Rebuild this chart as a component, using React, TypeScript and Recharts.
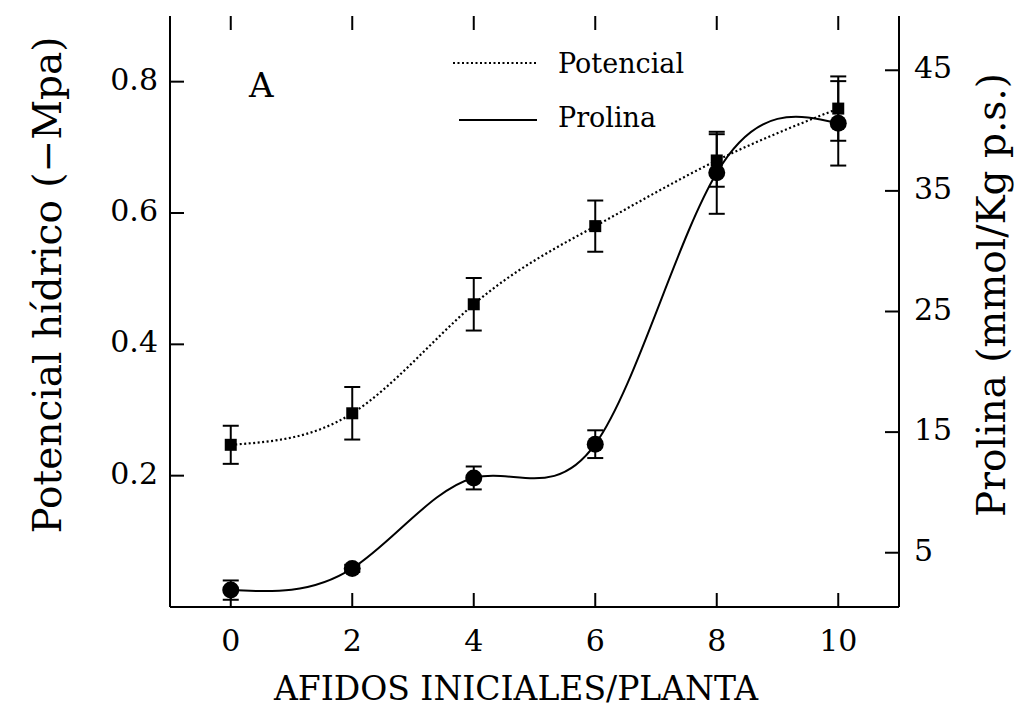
import React from "react";
import { LineChart, Line, XAxis, YAxis, ErrorBar, Label, ReferenceLine } from "recharts";

const xValues = [0, 2, 4, 6, 8, 10];
const potencial = [0.247, 0.295, 0.461, 0.58, 0.68, 0.759];
const potencialErr = [0.029, 0.04, 0.04, 0.039, 0.04, 0.049];
const prolina = [1.9, 3.7, 11.2, 14.0, 36.5, 40.6];
const prolinaErr = [0.8, 0.3, 0.95, 1.15, 3.4, 3.5];
const xTicks = [0, 2, 4, 6, 8, 10];
const leftTicks = [0.2, 0.4, 0.6, 0.8];
const rightTicks = [5, 15, 25, 35, 45];
const seriesNames = ["Potencial", "Prolina"];

const xDomain = [-1, 11];
const leftDomain = [0, 0.9];
const rightDomain = [0.5, 49.5];

const data = xValues.map((x, i) => ({
  x,
  potencial: potencial[i],
  potErr: potencialErr[i],
  prolina: prolina[i],
  proErr: prolinaErr[i],
}));

const FONT = "'DejaVu Serif', serif";
const axisLine = { stroke: "#000", strokeWidth: 2 };

// plot box (px) — fixed by the chart margins and axis sizes below
const PLOT_L = 170;
const PLOT_T = 16;
const PLOT_W = 729;
const PLOT_H = 591;
const TICK_PX = 14;
const tickX = ((xDomain[1] - xDomain[0]) * TICK_PX) / PLOT_W;
const tickYL = ((leftDomain[1] - leftDomain[0]) * TICK_PX) / PLOT_H;
const sx = (v: number) => PLOT_L + ((v - xDomain[0]) / (xDomain[1] - xDomain[0])) * PLOT_W;
const syL = (v: number) => PLOT_T + PLOT_H - ((v - leftDomain[0]) / (leftDomain[1] - leftDomain[0])) * PLOT_H;
const syR = (v: number) => PLOT_T + PLOT_H - ((v - rightDomain[0]) / (rightDomain[1] - rightDomain[0])) * PLOT_H;

const BottomTick = (props: any) => {
  const { x, y, payload } = props;
  return (
    <text x={x} y={y + 44} textAnchor="middle" fontFamily={FONT} fontSize={30} fill="#000">
      {payload.value}
    </text>
  );
};
const LeftTick = (props: any) => {
  const { x, y, payload } = props;
  return (
    <text x={x - 12} y={y + 8} textAnchor="end" fontFamily={FONT} fontSize={30} fill="#000">
      {String(payload.value)}
    </text>
  );
};
const RightTick = (props: any) => {
  const { x, y, payload } = props;
  return (
    <text x={x + 15} y={y + 8} textAnchor="start" fontFamily={FONT} fontSize={30} fill="#000">
      {String(payload.value)}
    </text>
  );
};

const SquareDot = (props: any) => {
  const { cx, cy, index } = props;
  if (cx == null || cy == null) return <g key={`s${index}`} />;
  return <rect key={`s${index}`} x={cx - 6} y={cy - 6} width={12} height={12} fill="#000" />;
};
const CircleDot = (props: any) => {
  const { cx, cy, index } = props;
  if (cx == null || cy == null) return <g key={`c${index}`} />;
  return <circle key={`c${index}`} cx={cx} cy={cy} r={8.5} fill="#000" />;
};

export default function App() {
  return (
    <div style={{ position: "relative", width: 1016, height: 707, background: "#fff", overflow: "hidden" }}>
      <style>{"html,body{margin:0;padding:0;overflow:hidden;background:#fff}"}</style>
      <LineChart
        width={1016}
        height={707}
        data={data}
        margin={{ top: 16, right: 0, bottom: 0, left: 0 }}
        style={{ overflow: "visible" }}
      >
        <XAxis
          dataKey="x"
          type="number"
          domain={xDomain}
          ticks={xTicks}
          allowDataOverflow
          height={100}
          axisLine={axisLine}
          tickLine={false}
          tickSize={0}
          tickMargin={0}
          tick={BottomTick}
          interval={0}
        >
          <Label
            content={() => (
              <text x={516} y={700} textAnchor="middle" fontFamily={FONT} fontSize={33} fill="#000">
                AFIDOS INICIALES/PLANTA
              </text>
            )}
          />
        </XAxis>
        <XAxis
          xAxisId="top"
          dataKey="x"
          type="number"
          orientation="top"
          domain={xDomain}
          ticks={xTicks}
          allowDataOverflow
          height={0}
          axisLine={axisLine}
          tickLine={false}
          tick={false}
        />
        <YAxis
          yAxisId="left"
          type="number"
          domain={leftDomain}
          ticks={leftTicks}
          allowDataOverflow
          width={170}
          axisLine={axisLine}
          tickLine={false}
          tickSize={0}
          tickMargin={0}
          tick={LeftTick}
          interval={0}
        >
          <Label
            content={() => (
              <text
                x={61}
                y={285}
                transform="rotate(-90 61 285)"
                textAnchor="middle"
                fontFamily={FONT}
                fontSize={39}
                fill="#000"
              >
                Potencial hídrico (−Mpa)
              </text>
            )}
          />
        </YAxis>
        <YAxis
          yAxisId="right"
          orientation="right"
          type="number"
          domain={rightDomain}
          ticks={rightTicks}
          allowDataOverflow
          width={117}
          axisLine={axisLine}
          tickLine={false}
          tickSize={0}
          tickMargin={0}
          tick={RightTick}
          interval={0}
        >
          <Label
            content={() => (
              <text
                x={1005}
                y={295}
                transform="rotate(-90 1005 295)"
                textAnchor="middle"
                fontFamily={FONT}
                fontSize={39}
                fill="#000"
              >
                Prolina (mmol/Kg p.s.)
              </text>
            )}
          />
        </YAxis>

        {xTicks.map((t) => (
          <ReferenceLine
            key={`tt${t}`}
            yAxisId="left"
            ifOverflow="visible"
            segment={[
              { x: t, y: leftDomain[1] },
              { x: t, y: leftDomain[1] - tickYL },
            ]}
            stroke="#000"
            strokeWidth={2}
          />
        ))}

        <Line
          yAxisId="right"
          dataKey="prolina"
          name={seriesNames[1]}
          type="natural"
          stroke="#000"
          strokeWidth={2}
          dot={CircleDot}
          activeDot={false}
          isAnimationActive={false}
        >
          <ErrorBar dataKey="proErr" direction="y" width={8} stroke="#000" strokeWidth={2} isAnimationActive={false} />
        </Line>
        <Line
          yAxisId="left"
          dataKey="potencial"
          name={seriesNames[0]}
          type="natural"
          stroke="#000"
          strokeWidth={2.2}
          strokeDasharray="2 2.5"
          dot={SquareDot}
          activeDot={false}
          isAnimationActive={false}
        >
          <ErrorBar dataKey="potErr" direction="y" width={8} stroke="#000" strokeWidth={2} isAnimationActive={false} />
        </Line>
      </LineChart>
      {/* inward tick marks on bottom, left and right frame edges */}
      <svg
        width={1016}
        height={707}
        style={{ position: "absolute", left: 0, top: 0, pointerEvents: "none" }}
      >
        {xTicks.map((t) => (
          <line key={`b${t}`} x1={sx(t)} x2={sx(t)} y1={syL(leftDomain[0])} y2={syL(leftDomain[0]) - TICK_PX} stroke="#000" strokeWidth={2} />
        ))}
        {leftTicks.map((t) => (
          <line key={`l${t}`} x1={PLOT_L} x2={PLOT_L + TICK_PX} y1={syL(t)} y2={syL(t)} stroke="#000" strokeWidth={2} />
        ))}
        {rightTicks.map((t) => (
          <line key={`r${t}`} x1={PLOT_L + PLOT_W} x2={PLOT_L + PLOT_W - TICK_PX} y1={syR(t)} y2={syR(t)} stroke="#000" strokeWidth={2} />
        ))}
      </svg>
      <svg
        width={280}
        height={100}
        style={{ position: "absolute", left: 440, top: 40, display: "block" }}
      >
        <line x1={13} y1={23} x2={97} y2={23} stroke="#000" strokeWidth={2} strokeDasharray="2 2.5" />
        <text x={118} y={33} fontFamily={FONT} fontSize={27} fill="#000">{seriesNames[0]}</text>
        <line x1={19} y1={80} x2={97} y2={80} stroke="#000" strokeWidth={2} />
        <text x={118} y={87} fontFamily={FONT} fontSize={27} fill="#000">{seriesNames[1]}</text>
      </svg>
      <div
        style={{
          position: "absolute",
          left: 249,
          top: 65,
          fontFamily: FONT,
          fontSize: 34,
          lineHeight: "40px",
          color: "#000",
        }}
      >
        A
      </div>
    </div>
  );
}
